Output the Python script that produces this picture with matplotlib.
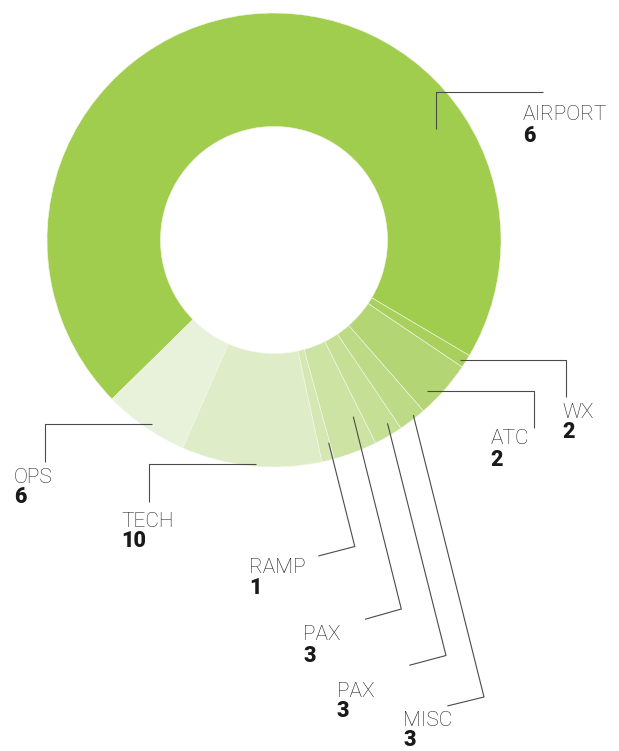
import matplotlib
matplotlib.use("Agg")
import matplotlib.pyplot as plt

# ---- data ----
categories = ["AIRPORT", "OPS", "TECH", "RAMP", "PAX", "PAX", "MISC", "ATC", "WX"]
counts = [6, 6, 10, 1, 3, 3, 3, 2, 2]
# wedge spans as drawn (degrees)
spans = [255.1, 21.8, 35.9, 3.2, 11.2, 7.4, 7.2, 14.8, 3.4]
colors = ["#a1cd4f", "#e8f1da", "#dfecc8", "#d5e8b4", "#cce3a3",
          "#c5df95", "#bddb86", "#b3d573", "#a9d05c"]

W, H = 619, 751
fig = plt.figure(figsize=(W / 100, H / 100), dpi=100)
ax = fig.add_axes([0, 0, 1, 1])

def Y(y):
    return H - y

cx, cy, R = 274, 240, 227
ax.pie(spans, colors=colors, startangle=-30.6, counterclock=True,
       center=(cx, Y(cy)), radius=R,
       wedgeprops=dict(width=R * 0.5, edgecolor="#f4f8ec", linewidth=0.4))
ax.set_xlim(0, W)
ax.set_ylim(0, H)
ax.set_aspect("equal")
ax.axis("off")

# leader lines (pixel coords) and label positions: x, name baseline, number baseline
leaders = {
    0: [(436, 129.3), (436, 91.7), (543.3, 91.7)],
    8: [(460, 360), (566.3, 360), (566.3, 397)],
    7: [(427, 390.7), (534.3, 390.7), (534.3, 427.5)],
    1: [(152.3, 424.3), (45, 424.3), (45, 461.7)],
    2: [(256, 464), (149, 464), (149, 501.7)],
    3: [(328.7, 442.7), (354.8, 546.5), (318.3, 556)],
    4: [(353.3, 416.7), (401.3, 609), (365, 619.3)],
    5: [(387.5, 423.3), (446, 655.5), (409.3, 665.3)],
    6: [(413.3, 415), (484, 697), (447.3, 706)],
}
label_pos = {
    0: (523, 120.5, 142),
    8: (562.5, 417.5, 438.5),
    7: (490.5, 444.5, 466),
    1: (14, 482.7, 503.3),
    2: (121.7, 526.7, 547.3),
    3: (249, 573.3, 594),
    4: (303, 640.5, 661.5),
    5: (336.7, 696.7, 717),
    6: (403.3, 725.5, 746.5),
}

fam = ["Roboto", "DejaVu Sans"]
for i, pts in leaders.items():
    xs = [p[0] for p in pts]
    ys = [Y(p[1]) for p in pts]
    ax.plot(xs, ys, color="#4a4a4a", lw=0.8, solid_capstyle="butt")
for i, (lx, yb1, yb2) in label_pos.items():
    ax.text(lx, Y(yb1), categories[i], family=fam, fontsize=15,
            fontweight="light", color="#222222", va="baseline", ha="left")
    ax.text(lx, Y(yb2), str(counts[i]), family=fam, fontsize=15.5,
            fontweight="black", color="#1a1a1a", va="baseline", ha="left")

fig.savefig("out.png", dpi=100)
